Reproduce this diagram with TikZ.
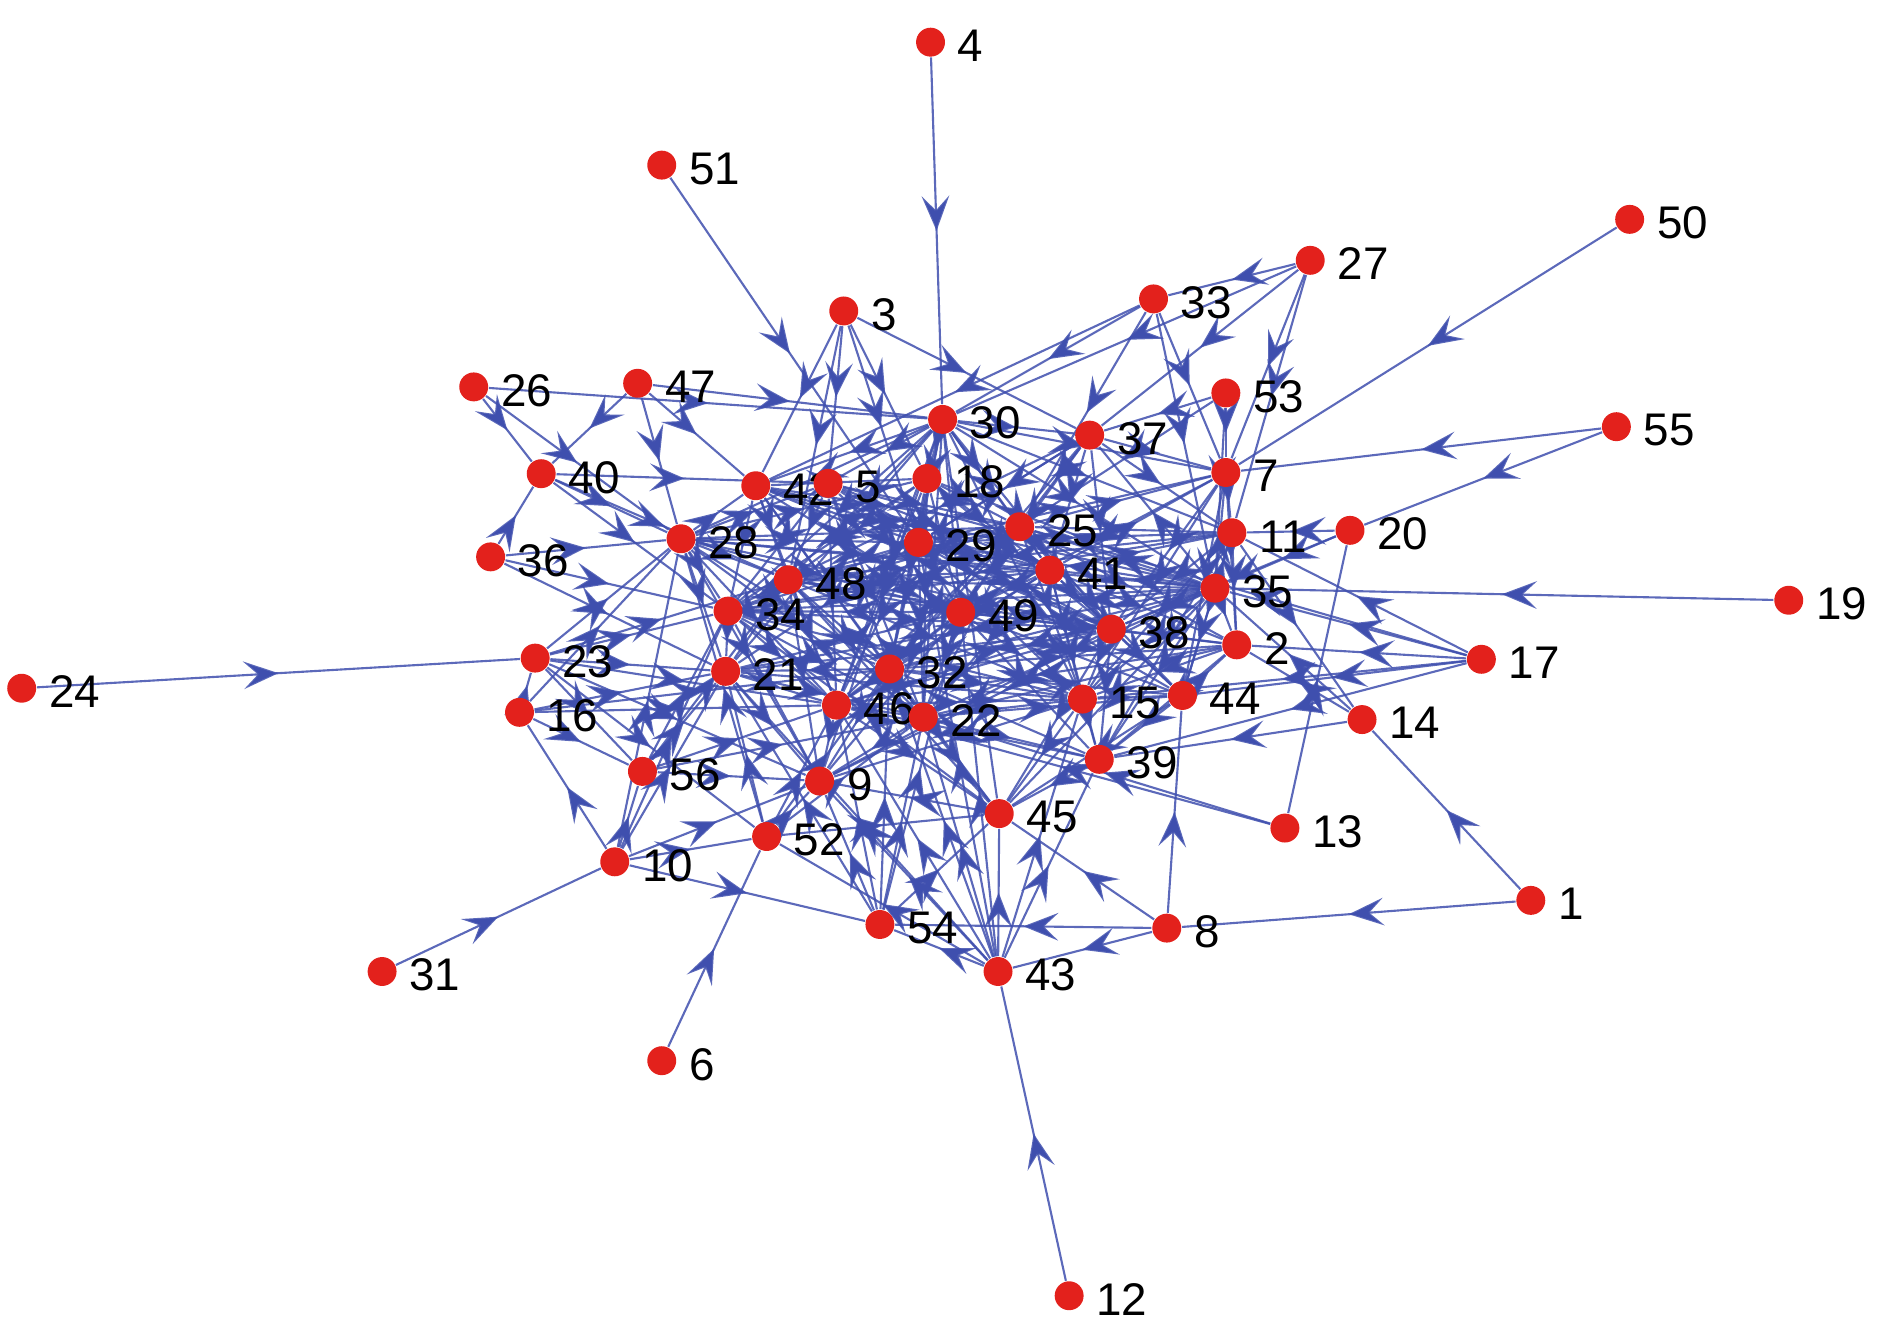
\documentclass[tikz,border=0pt]{standalone}
\usepackage{fontspec}
\setmainfont{Liberation Sans}
\usepackage{tikz}
\usetikzlibrary{arrows.meta,decorations.markings,backgrounds}
\definecolor{Edge}{HTML}{3F4FAE}
\definecolor{Dot}{HTML}{E3211C}

\begin{document}
\begin{tikzpicture}[
      x=0.1mm, y=-0.1mm,
      dot/.style={circle, fill=Dot, inner sep=0pt, minimum size=2.4mm},
      num/.style={font=\fontsize{10.8}{13}\selectfont, anchor=west, inner sep=0pt},
      arr/.style={draw=Edge, draw opacity=0.85, line width=0.5pt, postaction={decorate},
        decoration={markings, mark=at position 0.5 with {\arrow[Edge]{Stealth[length=2.9mm,width=2.3mm,inset=1.2mm]}}}}
    ]
    \useasboundingbox (0,0) rectangle (1568,1103);

    % nodes
    \foreach \i/\x/\y in {4/772/35, 51/549/137, 50/1352/182, 27/1087/216, 33/957/248,
        3/700/258, 26/393/321, 47/529/318, 53/1017/326, 30/782/348, 55/1341/354,
        37/904/361, 7/1017/392, 40/449/393, 42/627/403, 5/687/401, 18/769/397,
        25/846/437, 11/1022/442, 20/1120/440, 29/762/450, 28/565/447, 36/407/462,
        41/871/473, 48/654/481, 35/1008/488, 19/1484/498, 49/797/508, 34/604/507,
        38/922/522, 2/1026/535, 23/444/546, 17/1229/547, 32/738/555, 21/602/557,
        24/18/571, 15/898/580, 44/981/577, 46/694/585, 22/766/595, 16/431/591,
        14/1130/597, 39/912/630, 56/533/640, 9/680/648, 45/829/675, 13/1066/687,
        52/636/694, 10/510/715, 1/1270/747, 54/730/767, 8/968/770, 43/828/806,
        31/317/806, 6/549/880, 12/887/1075}{
      \node[dot] (n\i) at (\x,\y) {};
      \node[num] (t\i) at ([xshift=2.2mm,yshift=-0.3mm]n\i.center) {\i};
    }

    % connectors
    \begin{scope}[on background layer]
    \foreach \a/\b in {4/30, 51/29, 3/42, 3/5, 3/18, 3/48, 3/37, 3/29,
        26/30, 26/40, 26/28, 47/30, 47/42, 47/28, 47/40, 36/40, 40/5, 40/28, 40/34, 40/48,
        36/28, 36/21, 36/34,
        27/33, 27/30, 27/37, 27/11, 27/7, 33/30, 33/42, 33/7, 33/35, 33/25,
        50/7, 55/7, 55/20, 53/7, 53/37, 53/35, 53/25,
        20/11, 20/35, 13/20, 20/38, 19/35,
        17/35, 17/2, 17/44, 17/39, 17/15, 17/11, 17/25,
        1/14, 14/39, 14/35, 11/14, 14/2, 1/8,
        8/44, 8/45, 8/43, 8/54, 13/22, 13/46,
        12/43, 43/45, 43/22, 43/32, 43/46, 43/9, 43/52, 43/54, 43/39, 43/15, 43/49, 43/29, 43/21,
        6/52, 31/10, 10/54, 10/52, 10/56, 10/21, 10/16, 10/34, 10/28, 10/9,
        24/23, 23/28, 23/48, 23/34, 23/21, 23/46, 23/56, 23/9, 23/52,
        16/23, 16/28, 16/21, 16/56, 16/46, 16/32,
        56/21, 56/34, 56/48, 56/9, 56/46, 56/22,
        52/9, 52/46, 52/32, 52/22, 52/45, 52/21, 52/28,
        54/9, 54/46, 54/32, 54/22, 54/45, 54/21, 54/49}{
      \draw[arr] (n\a) -- (n\b);
    }
    \foreach \a/\b in {30/42, 30/5, 30/18, 30/29, 30/48, 30/25, 30/41, 30/49, 30/32, 30/22,
        30/46, 30/38, 30/35, 30/11, 30/7, 30/37, 30/28, 30/34, 30/21, 30/9, 30/15, 30/45,
        35/29, 35/25, 35/41, 35/49, 35/38, 35/32, 35/22, 35/46, 35/48, 35/34, 35/28, 35/42,
        35/5, 35/18, 35/15, 35/44, 35/39, 35/2, 35/11, 35/7, 35/37, 35/21, 35/9, 35/45,
        28/42, 28/5, 28/18, 28/29, 28/25, 28/41, 28/48, 28/49, 28/34, 28/38, 28/32, 28/46,
        28/21, 28/22, 28/9,
        29/42, 29/5, 29/18, 29/25, 29/41, 29/48, 29/49, 29/34, 29/38, 29/32, 29/22, 29/46,
        29/21, 29/15, 29/44, 29/11, 29/7, 29/37,
        32/42, 32/5, 32/48, 32/34, 32/21, 32/46, 32/22, 32/49, 32/41, 32/25, 32/38, 32/15,
        32/44, 32/39, 32/9, 32/45, 32/2}{
      \draw[arr] (n\a) -- (n\b);
    }
    \foreach \a/\b in {42/48, 42/34, 42/18, 42/25, 42/49, 5/48, 5/49, 5/25, 5/41, 5/34,
        18/25, 18/41, 18/48, 18/49, 25/41, 25/38, 25/11, 25/7, 41/38, 41/49, 41/11, 41/7,
        41/2, 48/34, 48/49, 48/21, 48/46, 48/22, 49/38, 49/15, 49/44, 49/22, 49/46, 34/21,
        34/46, 34/9, 34/22, 21/46, 21/9, 46/22, 46/9, 46/45, 22/45, 22/15, 22/39, 22/9,
        38/15, 38/44, 38/2, 38/39, 15/44, 15/39, 15/45, 44/2, 44/39, 39/45, 11/38, 11/2,
        11/44, 7/38, 7/2, 7/44, 7/11, 37/25, 37/41, 37/38, 37/11, 37/7, 37/29, 45/9, 2/15,
        44/45, 2/39}{
      \draw[arr] (n\a) -- (n\b);
    }
    \foreach \a/\b in {42/41, 42/38, 42/22, 42/46, 5/22, 5/46, 5/38, 18/32, 18/38, 18/22,
        18/46, 18/34, 25/48, 25/34, 25/49, 25/22, 25/46, 25/15, 25/44, 25/2, 41/48, 41/34,
        41/22, 41/46, 41/15, 41/44, 41/39, 48/38, 48/15, 48/9, 49/34, 49/21, 49/9, 49/39,
        49/2, 34/38, 34/15, 21/22, 21/38, 21/15, 46/38, 46/15, 46/39, 22/44, 22/2, 38/9,
        38/45, 15/9, 11/15, 11/39, 7/15, 7/49, 37/49, 37/48, 37/32, 11/48, 11/34, 2/46,
        45/48, 45/34}{
      \draw[arr] (n\a) -- (n\b);
    }
    \end{scope}
  \end{tikzpicture}
\end{document}
